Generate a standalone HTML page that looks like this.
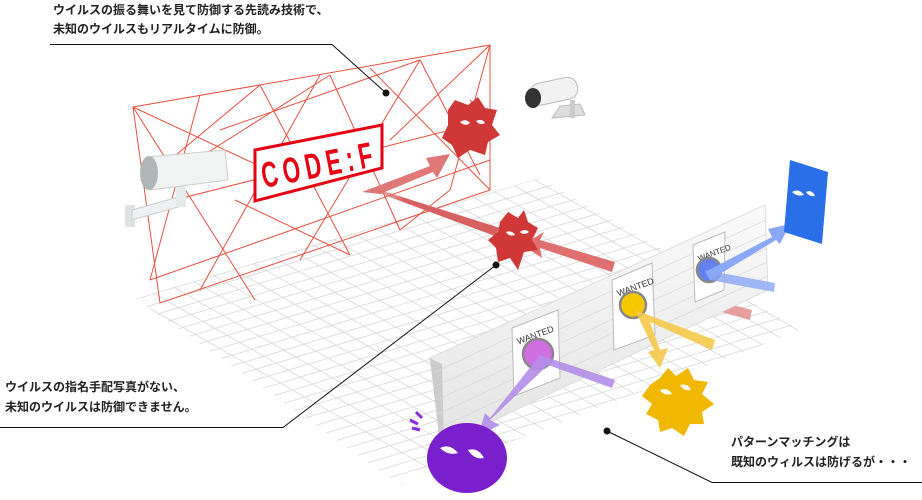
<!DOCTYPE html>
<html><head><meta charset="utf-8"><style>
body{margin:0;width:922px;height:500px;background:#fff;overflow:hidden;font-family:"Liberation Sans","Noto Sans CJK JP",sans-serif}
svg{position:absolute;left:0;top:0}
.t{font-size:12px;font-weight:bold;fill:#222}
</style></head><body>
<svg width="922" height="500" viewBox="0 0 922 500">
<defs>
<clipPath id="fl"><polygon points="135,298 540,178 800,330 400,485"/></clipPath>
<linearGradient id="fr" x1="0" x2="1"><stop offset="0" stop-color="#e07070" stop-opacity="0.3"/><stop offset="0.3" stop-color="#d86060"/></linearGradient>
<linearGradient id="bw" x1="0" y1="0" x2="0" y2="1"><stop offset="0" stop-color="#fafafa"/><stop offset="1" stop-color="#e4e4e4"/></linearGradient>
</defs>
<g clip-path="url(#fl)" stroke="#d8d8d8" stroke-width="0.8">
<line x1="100" y1="280" x2="520" y2="520"/><line x1="120" y1="274" x2="540" y2="514"/><line x1="140" y1="268" x2="560" y2="508"/><line x1="160" y1="262" x2="580" y2="502"/><line x1="180" y1="256" x2="600" y2="496"/><line x1="200" y1="250" x2="620" y2="490"/><line x1="220" y1="244" x2="640" y2="484"/><line x1="240" y1="238" x2="660" y2="478"/><line x1="260" y1="232" x2="680" y2="472"/><line x1="280" y1="226" x2="700" y2="466"/><line x1="300" y1="220" x2="720" y2="460"/><line x1="320" y1="214" x2="740" y2="454"/><line x1="340" y1="208" x2="760" y2="448"/><line x1="360" y1="202" x2="780" y2="442"/><line x1="380" y1="196" x2="800" y2="436"/><line x1="400" y1="190" x2="820" y2="430"/><line x1="420" y1="184" x2="840" y2="424"/><line x1="440" y1="178" x2="860" y2="418"/><line x1="460" y1="172" x2="880" y2="412"/><line x1="480" y1="166" x2="900" y2="406"/><line x1="500" y1="160" x2="920" y2="400"/><line x1="520" y1="154" x2="940" y2="394"/>
<line x1="100" y1="310" x2="600" y2="160"/><line x1="112" y1="317" x2="612" y2="167"/><line x1="124" y1="324" x2="624" y2="174"/><line x1="136" y1="331" x2="636" y2="181"/><line x1="148" y1="338" x2="648" y2="188"/><line x1="160" y1="345" x2="660" y2="195"/><line x1="172" y1="352" x2="672" y2="202"/><line x1="184" y1="359" x2="684" y2="209"/><line x1="196" y1="366" x2="696" y2="216"/><line x1="208" y1="373" x2="708" y2="223"/><line x1="220" y1="380" x2="720" y2="230"/><line x1="232" y1="387" x2="732" y2="237"/><line x1="244" y1="394" x2="744" y2="244"/><line x1="256" y1="401" x2="756" y2="251"/><line x1="268" y1="408" x2="768" y2="258"/><line x1="280" y1="415" x2="780" y2="265"/><line x1="292" y1="422" x2="792" y2="272"/><line x1="304" y1="429" x2="804" y2="279"/><line x1="316" y1="436" x2="816" y2="286"/><line x1="328" y1="443" x2="828" y2="293"/><line x1="340" y1="450" x2="840" y2="300"/><line x1="352" y1="457" x2="852" y2="307"/><line x1="364" y1="464" x2="864" y2="314"/><line x1="376" y1="471" x2="876" y2="321"/><line x1="388" y1="478" x2="888" y2="328"/><line x1="400" y1="485" x2="900" y2="335"/>
</g>
<g stroke="#e8503f" stroke-width="1" fill="none">
<polygon points="133,107 490,45 490,190 160,303"/>
<path d="M133,107 L255,300 M133,107 L300,185 M200,95 L150,280 M260,85 L350,255 M320,75 L200,290 M330,75 L400,230 M370,68 L490,190 M420,60 L300,260 M420,60 L480,175 M490,45 L390,140 M490,45 L450,190 M135,210 L490,120 M150,280 L490,160 M235,200 L350,255 M220,130 L420,60 M180,170 L330,75 M400,230 L450,190 M260,85 L170,160 M470,100 L490,120"/>
</g>
<polygon points="255,150 382,125 382,168 255,201" fill="#fff" stroke="#e60012" stroke-width="3"/>
<text x="0" y="0" transform="translate(264,188) rotate(-11) scale(0.75,1.2)" font-family="Liberation Sans" font-size="30" fill="#e60012" letter-spacing="7" font-weight="bold">CODE:F</text>
<rect x="125" y="205" width="10" height="22" fill="#dde3e3"/><path d="M132,210 L185,195 L185,205 L132,220z" fill="#eef1f1" stroke="#ccc"/>
<rect x="176" y="185" width="10" height="22" fill="#e6eaea"/>
<path d="M148,157 L225,150 L228,180 L150,190z" fill="#f2f4f4" stroke="#ccc"/>
<ellipse cx="149" cy="173" rx="9" ry="17" fill="#b0b6b6"/>
<path d="M560,106 L580,104 L585,115 L552,118z" fill="#ddd" stroke="#bbb"/>
<rect x="570" y="100" width="5" height="18" fill="#ccc"/>
<rect x="530" y="80" width="48" height="22" rx="10" fill="#f2f2f2" stroke="#bbb" transform="rotate(-12 555 92)"/>
<ellipse cx="533" cy="98" rx="8" ry="10" fill="#333"/>
<polygon points="362,192 430,166 426,158 450,154 437,178 433,172 380,194" fill="#e07878"/>
<polygon points="365,188 380,190 500,228 495,236" fill="url(#fr)"/>
<polygon points="540,240 615,262 612,272 540,248 542,258 522,245 544,232" fill="#e07070"/>
<polygon points="668,288 752,310 750,320 664,296" fill="#e08888" opacity="0.8"/>
<polygon points="430,358 765,205 768,290 442,445" fill="url(#bw)" stroke="#ddd"/>
<polygon points="430,358 442,364 444,447 440,445" fill="#ccc"/>
<g stroke="#d8d8d8" stroke-width="0.7">
<line x1="435" y1="372" x2="766" y2="220"/><line x1="436" y1="386" x2="766" y2="234"/><line x1="437" y1="400" x2="767" y2="248"/><line x1="438" y1="414" x2="767" y2="262"/><line x1="439" y1="428" x2="768" y2="276"/>
</g>
<polygon points="512,328 558,310 560,378 514,396" fill="#fff" stroke="#bbb"/>
<text x="516" y="340" font-size="9" transform="rotate(-20 530 336)" fill="#333">WANTED</text>
<circle cx="538" cy="354" r="15" fill="#d070e0" stroke="#888" stroke-width="2.5"/>
<polygon points="612,280 652,263 655,335 614,350" fill="#fff" stroke="#bbb"/>
<text x="616" y="292" font-size="9" transform="rotate(-20 630 288)" fill="#333">WANTED</text>
<circle cx="633" cy="305" r="13" fill="#f5c800" stroke="#888" stroke-width="2.5"/>
<polygon points="693,245 725,232 724,290 695,302" fill="#fff" stroke="#bbb"/>
<text x="697" y="257" font-size="8" transform="rotate(-20 710 253)" fill="#333">WANTED</text>
<circle cx="709" cy="270" r="12" fill="#6680f0" stroke="#888" stroke-width="2.5"/>
<polygon points="540,355 615,380 612,388 548,365 490,420 500,425 478,436 485,413 490,418" fill="#b48ee8" opacity="0.9"/>
<polygon points="635,310 715,340 712,350 650,322 660,350 668,348 660,368 648,352 654,350" fill="#f5c94a" opacity="0.9"/>
<polygon points="705,270 775,283 774,292 710,280" fill="#8aa8f8" opacity="0.8"/>
<polygon points="705,272 772,237 768,229 790,224 780,244 776,240 710,280" fill="#8aa8f8"/>
<circle cx="470" cy="128" r="22" fill="#d03838"/>
<path d="M448,110 L455,100 L468,105 L478,97 L485,108 L497,110 L492,125 L500,135 L488,142 L485,155 L470,150 L458,158 L452,145 L442,138 L448,125z" fill="#d03838"/>
<path d="M460,122 q6,-4 10,1 q-5,4 -10,-1zM476,121 q6,-3 9,2 q-5,3 -9,-2z" fill="#fff"/>
<path d="M500,222 L508,212 L518,218 L524,210 L528,222 L538,228 L532,240 L538,250 L524,252 L518,270 L510,258 L498,262 L496,248 L488,240 L498,232z" fill="#d03838"/>
<path d="M506,232 q6,-2 9,3 q-6,2 -9,-3zM520,232 q5,-4 9,0 q-5,4 -9,0z" fill="#fff"/>
<ellipse cx="467" cy="458" rx="40" ry="35" fill="#7a1fcc"/>
<path d="M440,448 q10,-5 18,5 q-10,3 -18,-5zM468,450 q10,-3 16,8 q-10,2 -16,-8z" fill="#fff"/>
<path d="M410,420 l8,4 M412,428 l8,2 M416,412 l6,6" stroke="#8a2be2" stroke-width="3"/>
<path d="M650,385 L660,378 L668,368 L676,376 L688,368 L694,380 L708,382 L702,394 L714,404 L702,412 L704,424 L690,424 L684,436 L672,428 L660,432 L658,420 L646,414 L652,404 L642,396z" fill="#f0b800"/>
<path d="M660,390 q8,-3 12,4 q-8,2 -12,-4zM680,385 q8,-2 11,5 q-8,1 -11,-5z" fill="#fff"/>
<polygon points="790,160 828,172 822,244 784,232" fill="#2a6ee8"/>
<path d="M792,192 q7,-4 12,3 q-7,2 -12,-3zM806,192 q6,-3 9,4 q-6,1 -9,-4z" fill="#fff"/>
<g stroke="#111" stroke-width="1" fill="none">
<polyline points="50,44.5 332,44.5 386,93"/>
<polyline points="0,427.5 283,427.5 496,265"/>
<polyline points="607,431 712,482.5 922,482.5"/>
</g>
<circle cx="386" cy="93" r="3.5" fill="#111"/><circle cx="496" cy="265" r="3.5" fill="#111"/><circle cx="607" cy="431" r="3.5" fill="#111"/>
<text class="t" x="53" y="14">ウイルスの振る舞いを見て防御する先読み技術で、</text>
<text class="t" x="53" y="33">未知のウイルスもリアルタイムに防御。</text>
<text class="t" x="5" y="391">ウイルスの指名手配写真がない、</text>
<text class="t" x="5" y="411">未知のウイルスは防御できません。</text>
<text class="t" x="731" y="446">パターンマッチングは</text>
<text class="t" x="731" y="466">既知のウィルスは防げるが・・・</text>
</svg>
</body></html>
